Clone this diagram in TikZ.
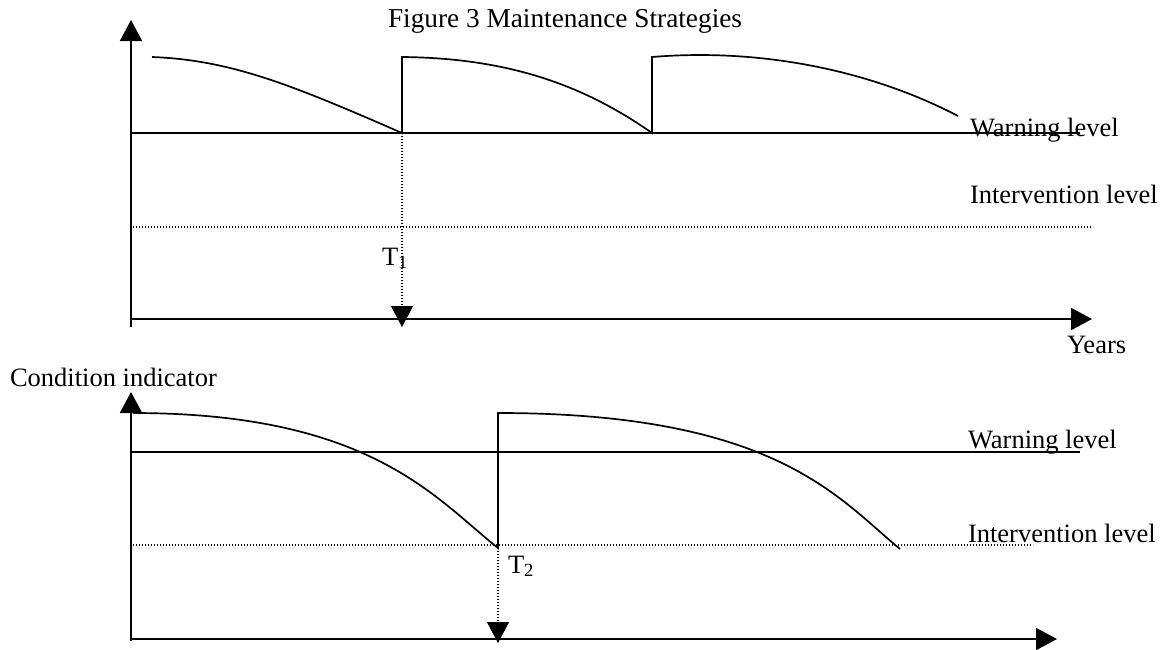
\documentclass[tikz,border=0pt]{standalone}
\usepackage{fontspec}
\setmainfont{Liberation Serif}
\usetikzlibrary{arrows.meta}
\tikzstyle{every node}=[inner sep=0pt,outer sep=0pt,anchor=base west,font=\fontsize{26.5}{30}\selectfont]
\tikzstyle{axisline}=[line width=1.9pt,-{Triangle[length=21pt,width=22pt]}]
\tikzstyle{warnline}=[line width=1.7pt]
\tikzstyle{dotline}=[line width=1.2pt,dash pattern=on 1.2pt off 1.8pt]
\tikzstyle{dotarrow}=[dotline,-{Triangle[length=21pt,width=22pt]}]
\tikzstyle{condition}=[line width=1.7pt]

\begin{document}
\begin{tikzpicture}[x=1pt,y=-1pt]
    \useasboundingbox (0,0) rectangle (1166,649);
    \node[font=\fontsize{27.3}{30}\selectfont] (title) at (388,27) {Figure 3 Maintenance Strategies};

    % upper plot: warning level
    \coordinate (ya) at (131,327);
    \coordinate (yb) at (131,20);
    \coordinate (xa) at (131,319);
    \coordinate (xb) at (1092,319);
    \coordinate (wa) at (131,133);
    \coordinate (wb) at (1080,133);
    \coordinate (ia) at (133,227);
    \coordinate (ib) at (1093,227);
    \coordinate (s1) at (152,57);
    \coordinate (t1) at (402,133);
    \coordinate (r1) at (402,57);
    \coordinate (d1) at (652,133);
    \coordinate (r2) at (652,57);
    \coordinate (e1) at (958,116);
    \coordinate (t1end) at (402,327);
    \draw[axisline] (ya) -- (yb);
    \draw[axisline] (xa) -- (xb);
    \draw[warnline] (wa) -- (wb);
    \draw[dotline] (ia) -- (ib);
    \draw[dotarrow] (t1) -- (t1end);
    \draw[condition] (s1) .. controls (230,60) and (290,84) .. (t1) -- (r1)
        .. controls (510,58) and (585,86) .. (d1) -- (r2)
        .. controls (760,48) and (870,70) .. (e1);
    \node (warn1) at (970,136) {Warning level};
    \node (inter1) at (970,203) {Intervention level};
    \node (years) at (1067,353) {Years};
    \node (T1) at (382,265) {T\textsubscript{1}};

    % lower plot: intervention level
    \node (cond) at (10,386) {Condition indicator};
    \coordinate (yc) at (131,641);
    \coordinate (yd) at (131,392);
    \coordinate (xc) at (131,639);
    \coordinate (xd) at (1057,639);
    \coordinate (wc) at (131,452);
    \coordinate (wd) at (1080,452);
    \coordinate (ic) at (133,545);
    \coordinate (id) at (1033,545);
    \coordinate (s3) at (133,413);
    \coordinate (t2) at (498,548);
    \coordinate (r3) at (498,413);
    \coordinate (e2) at (900,549);
    \coordinate (t2end) at (498,643);
    \draw[axisline] (yc) -- (yd);
    \draw[axisline] (xc) -- (xd);
    \draw[warnline] (wc) -- (wd);
    \draw[dotline] (ic) -- (id);
    \draw[dotarrow] (t2) -- (t2end);
    \draw[condition] (s3) .. controls (370,413) and (435,498) .. (t2) -- (r3)
        .. controls (775,413) and (838,498) .. (e2);
    \node (warn2) at (968,448) {Warning level};
    \node (inter2) at (968,542) {Intervention level};
    \node (T2) at (508,573) {T\textsubscript{2}};
\end{tikzpicture}
\end{document}
